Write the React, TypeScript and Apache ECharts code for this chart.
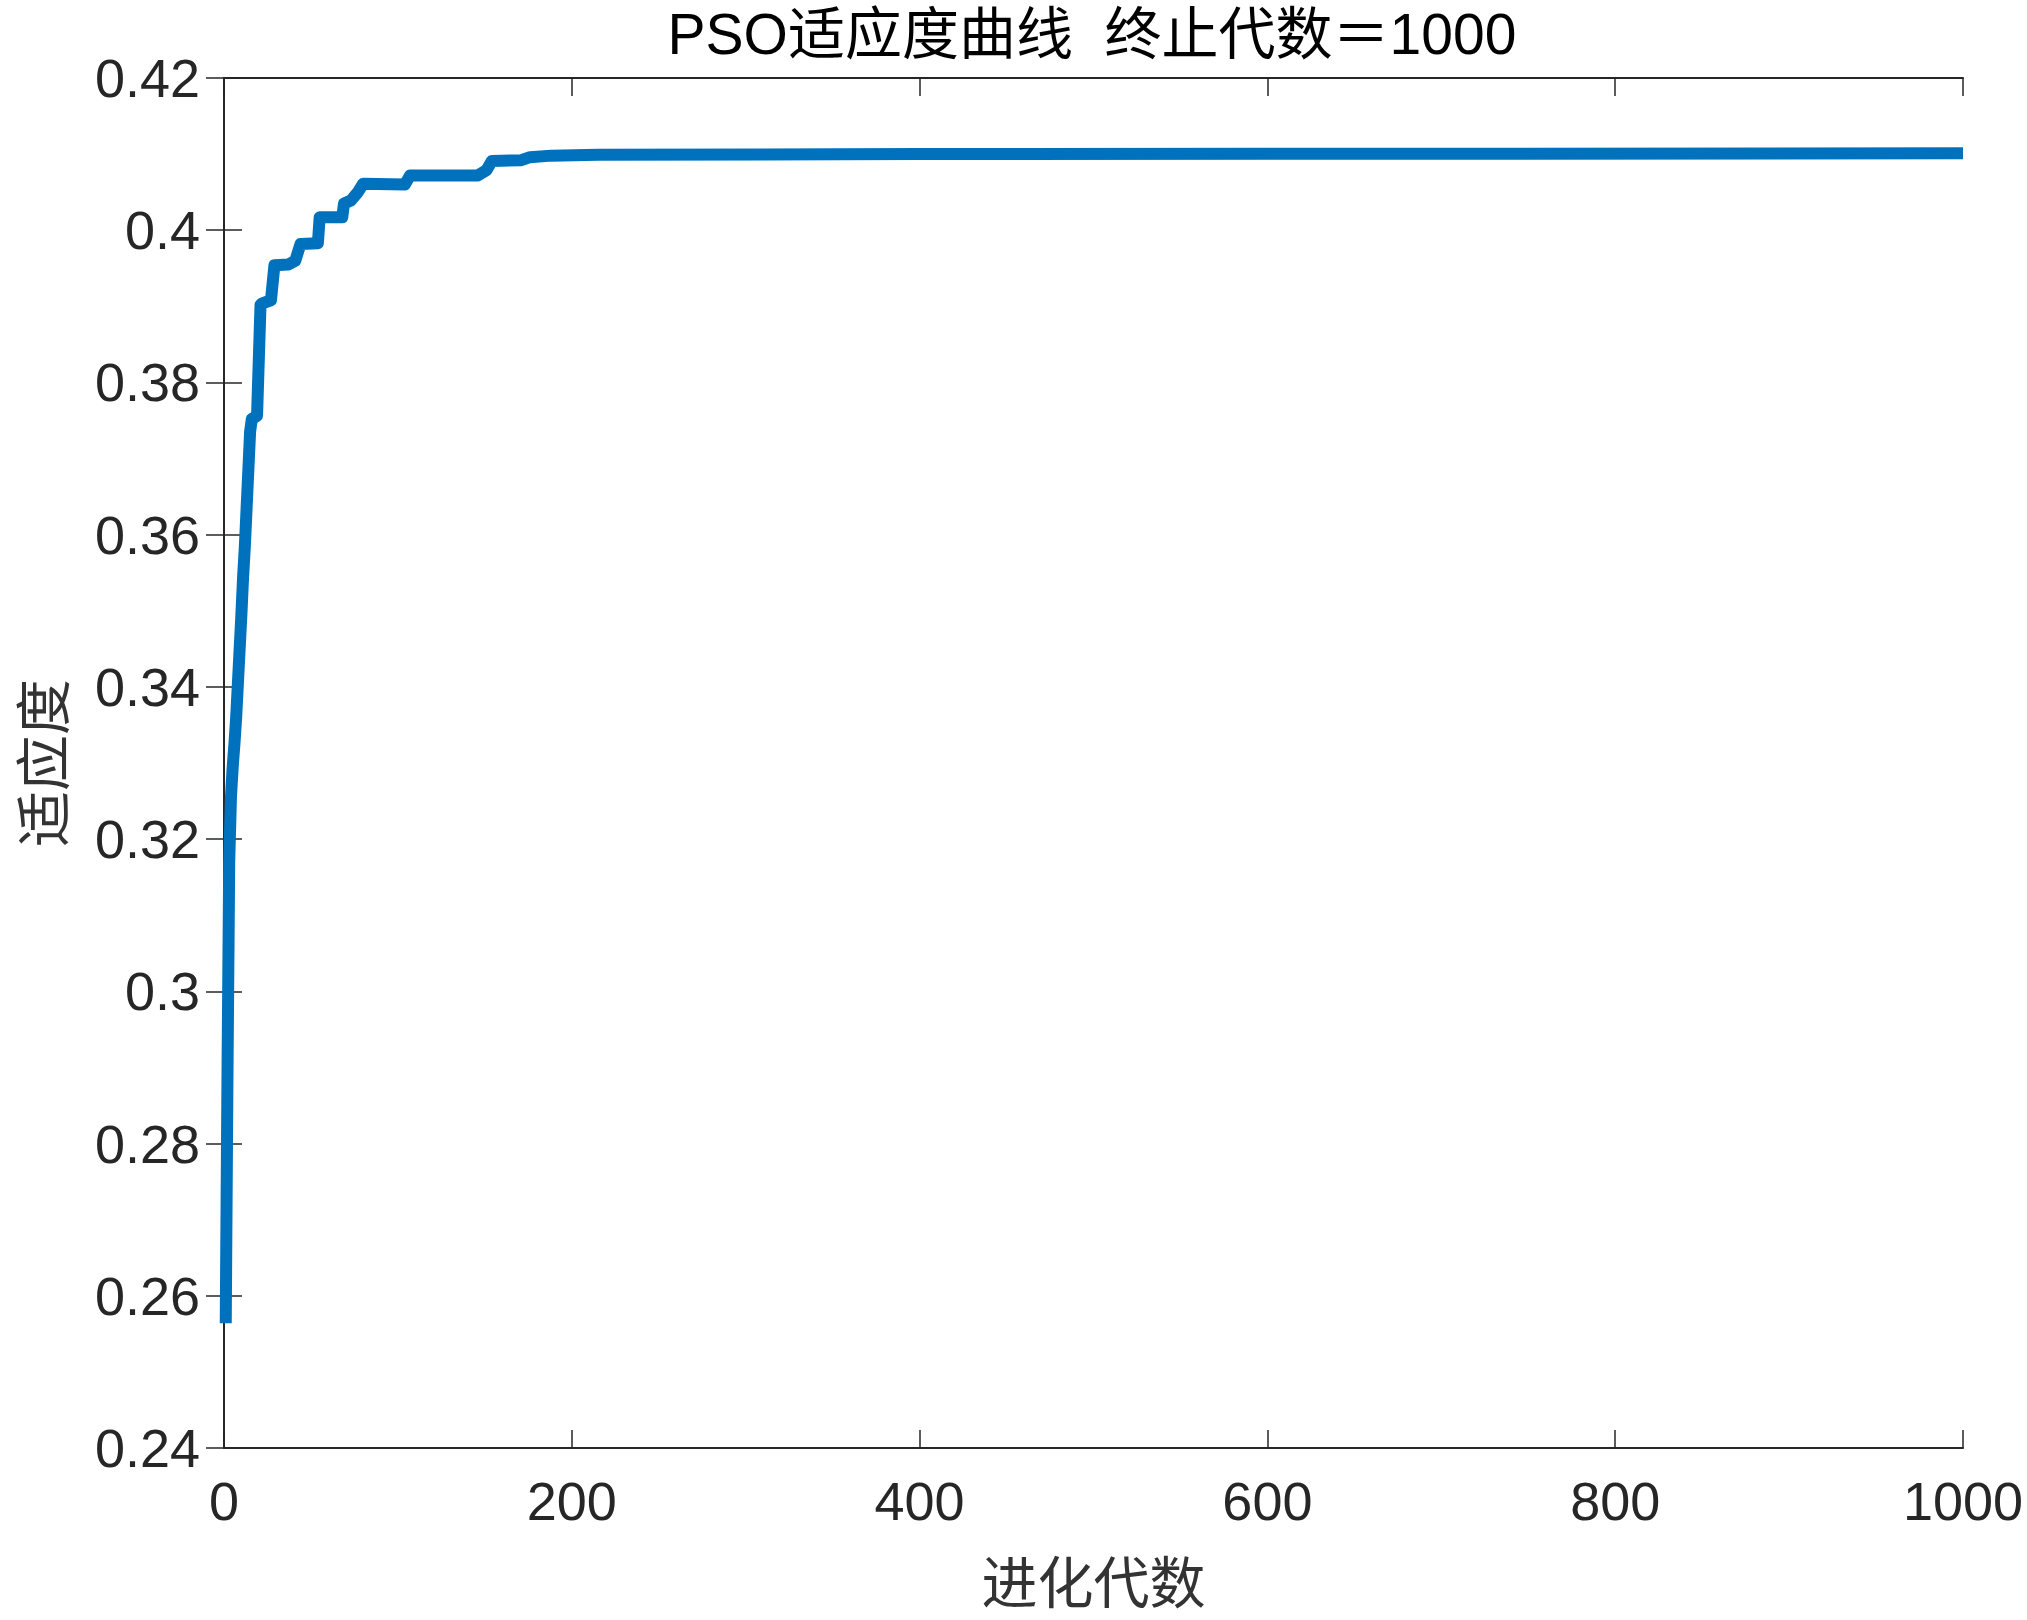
import React, { useEffect, useRef } from "react";
import * as echarts from "echarts";

const titleText = "PSO适应度曲线  终止代数＝1000";
const xName = "进化代数";
const yName = "适应度";

const generations = [
  1, 2, 3, 4, 5, 6, 7, 8, 9, 10, 11, 12, 13, 14, 15, 16, 19, 21, 22, 27, 29, 37, 41, 44, 54, 55, 68, 69, 73, 77,
  80, 104, 107, 146, 151, 154, 171, 176, 188, 215, 400, 1000,
];
const fitness = [
  0.2564, 0.289, 0.317, 0.3255, 0.3295, 0.3325, 0.336, 0.3405, 0.345, 0.3495, 0.3545, 0.3585, 0.3635, 0.3685,
  0.3735, 0.3752, 0.3756, 0.3902, 0.3904, 0.3908, 0.3954, 0.3955, 0.396, 0.3982, 0.3983, 0.4017, 0.4017, 0.4035,
  0.4039, 0.405, 0.4061, 0.406, 0.4072, 0.4072, 0.4079, 0.4091, 0.4092, 0.4096, 0.4098, 0.4099, 0.41, 0.4101,
];

const xMin = 0;
const xMax = 1000;
const xStep = 200;
const yMin = 0.24;
const yMax = 0.42;
const yStep = 0.02;

const AXIS_COLOR = "#262626";
const LINE_COLOR = "#0072BD";
const NUM_FONT = "'Liberation Sans', Arial, 'Noto Sans CJK SC', sans-serif";
const CJK_FONT = "'Noto Sans CJK SC', 'Liberation Sans', sans-serif";

export default function App() {
  const ref = useRef<HTMLDivElement>(null);

  useEffect(() => {
    if (!ref.current) return;
    const chart = echarts.init(ref.current, undefined, { renderer: "svg" });
    const data = generations.map((g, i) => [g, fitness[i]]);

    const axisLine = { show: true, lineStyle: { color: AXIS_COLOR, width: 2 } };
    const axisTick = { show: true, inside: true, length: 18, lineStyle: { color: AXIS_COLOR, width: 1.5 } };
    const yFmt = (v: number) => String(parseFloat(v.toFixed(2)));
    const xFmt = (v: number) => String(Math.round(v));

    chart.setOption({
      animation: false,
      backgroundColor: "#ffffff",
      grid: { left: 224, right: 64, top: 78, bottom: 172, containLabel: false },
      graphic: [
        {
          type: "text",
          x: 1092,
          y: 34,
          style: {
            text: titleText,
            textAlign: "center",
            textVerticalAlign: "middle",
            fontSize: 57,
            fontFamily: NUM_FONT,
            fill: "#000000",
          },
        },
      ],
      xAxis: [
        {
          type: "value",
          position: "bottom",
          min: xMin,
          max: xMax,
          interval: xStep,
          name: xName,
          nameLocation: "middle",
          nameGap: 102,
          nameTextStyle: { fontSize: 56, fontFamily: CJK_FONT, color: "#333333" },
          axisLine,
          axisTick,
          splitLine: { show: false },
          axisLabel: { fontSize: 54, fontFamily: NUM_FONT, color: AXIS_COLOR, margin: 26, formatter: xFmt },
        },
        {
          type: "value",
          position: "top",
          min: xMin,
          max: xMax,
          interval: xStep,
          axisLine,
          axisTick,
          splitLine: { show: false },
          axisLabel: { show: false },
        },
      ],
      yAxis: [
        {
          type: "value",
          position: "left",
          min: yMin,
          max: yMax,
          interval: yStep,
          name: yName,
          nameLocation: "middle",
          nameGap: 157,
          nameRotate: 90,
          nameTextStyle: { fontSize: 56, fontFamily: CJK_FONT, color: "#333333" },
          axisLine,
          axisTick,
          splitLine: { show: false },
          axisLabel: { fontSize: 54, fontFamily: NUM_FONT, color: AXIS_COLOR, margin: 24, formatter: yFmt },
        },
        {
          type: "value",
          position: "right",
          min: yMin,
          max: yMax,
          interval: yStep,
          axisLine,
          axisTick,
          splitLine: { show: false },
          axisLabel: { show: false },
        },
      ],
      series: [
        {
          type: "line",
          xAxisIndex: 0,
          yAxisIndex: 0,
          data,
          showSymbol: false,
          symbol: "none",
          lineStyle: { color: LINE_COLOR, width: 12, cap: "butt", join: "round" },
        },
      ],
    });

    return () => chart.dispose();
  }, []);

  return (
    <div
      ref={ref}
      style={{ position: "absolute", left: 0, top: 0, width: 2027, height: 1620, background: "#fff" }}
    />
  );
}
